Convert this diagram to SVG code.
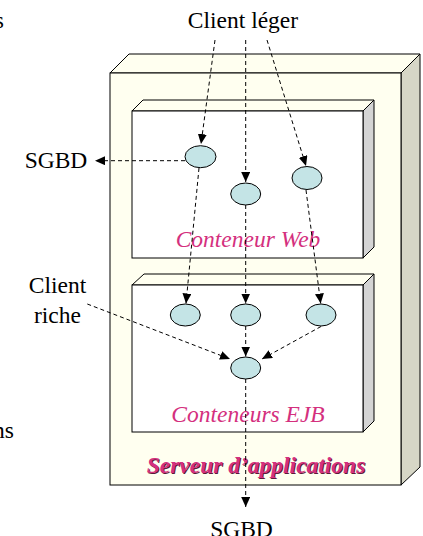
<svg xmlns="http://www.w3.org/2000/svg" width="423" height="536" viewBox="0 0 423 536">
<defs>
<style>
.t{font-family:"Liberation Serif","Times New Roman",serif;font-size:23.5px;fill:#000}
.p{font-family:"Liberation Serif","Times New Roman",serif;font-size:23.5px;font-style:italic;fill:#D4307E}
.pb{font-weight:bold}
.sh{fill:#5a1a38}
.c{fill:none;stroke:#000;stroke-width:1;stroke-dasharray:4 3}
.e{fill:#C4E4E6;stroke:#000;stroke-width:1}
.cream{fill:#FFFFF0;stroke:#000;stroke-width:1}
</style>
<marker id="ah" markerWidth="11" markerHeight="9" refX="10" refY="4.5" orient="auto" markerUnits="userSpaceOnUse">
<path d="M0,0 L10,4.5 L0,9 z" fill="#000"/>
</marker>
</defs>
<rect width="423" height="536" fill="#fff"/>
<text class="t" x="4" y="28" text-anchor="end">s</text>
<text class="t" x="14" y="438" text-anchor="end">ns</text>
<g id="serveur">
<polygon class="cream" points="110,73 129,54 420,54 401,73"/>
<polygon points="401,73 420,54 420,467 401,485" fill="#D6D6C6" stroke="#000"/>
<rect class="cream" x="110" y="73" width="291" height="412"/>
<text class="p pb sh" x="257" y="474" text-anchor="middle">Serveur d’applications</text>
<text class="p pb" x="256" y="473" text-anchor="middle">Serveur d’applications</text>
</g>
<g id="web">
<polygon class="cream" points="132,111 143,100 374,100 363,111"/>
<polygon points="363,111 374,100 374,247 363,258" fill="#D4D4D4" stroke="#000"/>
<rect x="132" y="111" width="231" height="147" fill="#fff" stroke="#000"/>
<text class="p" x="248" y="246.7" text-anchor="middle">Conteneur Web</text>
</g>
<g id="ejb">
<polygon class="cream" points="132,285 144,274 374,274 363,285"/>
<polygon points="363,285 374,274 374,421 363,432" fill="#D4D4D4" stroke="#000"/>
<rect x="132" y="285" width="231" height="147" fill="#fff" stroke="#000"/>
<text class="p" x="248" y="421.7" text-anchor="middle">Conteneurs EJB</text>
</g>
<g id="labels">
<text class="t" x="243" y="28" text-anchor="middle">Client léger</text>
<text class="t" x="56" y="167.7" text-anchor="middle">SGBD</text>
<text class="t" x="57.5" y="293.3" text-anchor="middle">Client</text>
<text class="t" x="57.5" y="323.3" text-anchor="middle">riche</text>
<text class="t" x="241.5" y="537" text-anchor="middle">SGBD</text>
</g>
<g id="connectors">
<line class="c" x1="215" y1="40" x2="201" y2="144" marker-end="url(#ah)"/>
<line class="c" x1="245.7" y1="40" x2="245.7" y2="182" marker-end="url(#ah)"/>
<line class="c" x1="267" y1="40" x2="306" y2="166" marker-end="url(#ah)"/>
<line class="c" x1="185" y1="160.7" x2="95" y2="160.7" marker-end="url(#ah)"/>
<line class="c" x1="199" y1="168" x2="186" y2="303.5" marker-end="url(#ah)"/>
<line class="c" x1="245.7" y1="205" x2="245.7" y2="303.5" marker-end="url(#ah)"/>
<line class="c" x1="306" y1="190" x2="320.7" y2="303.5" marker-end="url(#ah)"/>
<line class="c" x1="87.3" y1="304" x2="230" y2="359" marker-end="url(#ah)"/>
<line class="c" x1="321" y1="326.5" x2="262" y2="359" marker-end="url(#ah)"/>
<line class="c" x1="245.7" y1="326" x2="245.7" y2="356.5" marker-end="url(#ah)"/>
<line class="c" x1="245.7" y1="379" x2="245.7" y2="507" marker-end="url(#ah)"/>
</g>
<g id="n-web1"><ellipse class="e" cx="200.5" cy="156.7" rx="15.5" ry="11"/></g>
<g id="n-web2"><ellipse class="e" cx="245.7" cy="194" rx="15" ry="11"/></g>
<g id="n-web3"><ellipse class="e" cx="307" cy="178" rx="15" ry="11.5"/></g>
<g id="n-ejb1"><ellipse class="e" cx="185.3" cy="315" rx="15" ry="11"/></g>
<g id="n-ejb2"><ellipse class="e" cx="245.7" cy="315" rx="15" ry="11"/></g>
<g id="n-ejb3"><ellipse class="e" cx="321" cy="315" rx="15" ry="11"/></g>
<g id="n-ejb4"><ellipse class="e" cx="245.7" cy="368" rx="15" ry="11"/></g>
</svg>
